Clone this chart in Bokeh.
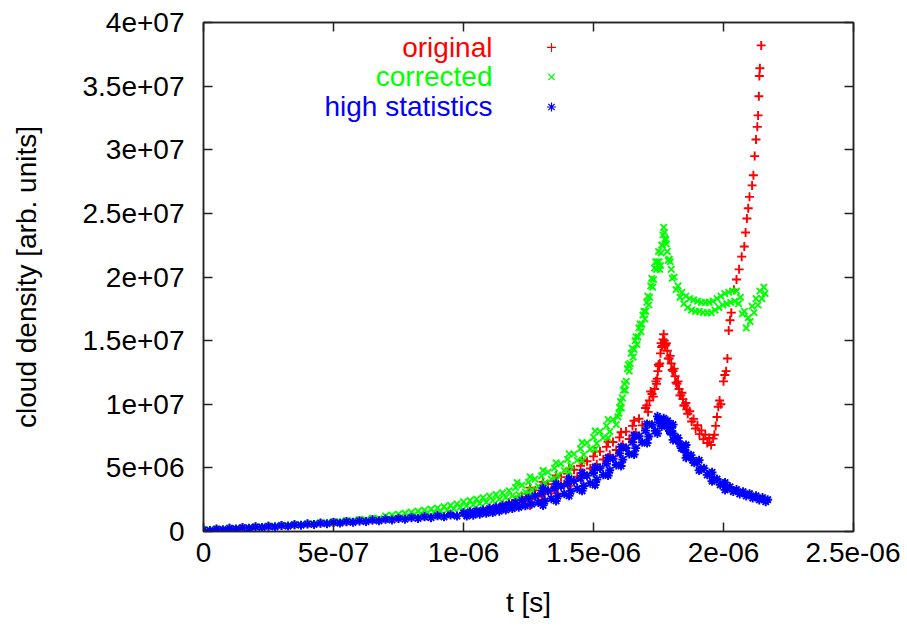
import numpy as np
from bokeh.plotting import figure
from bokeh.models import Range1d, FixedTicker, CustomJSTickFormatter, LinearAxis, Label
from bokeh.embed import file_html
from bokeh.resources import INLINE

FONT = "Liberation Sans"
FS = "28px"

# ---------------- data (t in microseconds, density in millions) ----------------
x_ticks = [0, 5e-7, 1e-6, 1.5e-6, 2e-6, 2.5e-6]
x_tick_labels = ["0", "5e-07", "1e-06", "1.5e-06", "2e-06", "2.5e-06"]
y_ticks = [0, 5e6, 1e7, 1.5e7, 2e7, 2.5e7, 3e7, 3.5e7, 4e7]
y_tick_labels = ["0", "5e+06", "1e+07", "1.5e+07", "2e+07", "2.5e+07", "3e+07", "3.5e+07", "4e+07"]

series_names = ["original", "corrected", "high statistics"]

t_original_us = [
    0.00, 0.05, 0.10, 0.15, 0.20, 0.25, 0.30, 0.35, 0.40, 0.45, 0.50, 0.55, 0.60, 0.65,
    0.70, 0.75, 0.80, 0.85, 0.90, 0.95, 1.00, 1.05,
    1.1000, 1.1125, 1.1250, 1.1375, 1.1500, 1.1625, 1.1750, 1.1875, 1.2000, 1.2125, 1.2250, 1.2375,
    1.2500, 1.2625, 1.2750, 1.2875, 1.3000, 1.3125, 1.3250, 1.3375, 1.3500, 1.3625, 1.3750, 1.3875,
    1.4000, 1.4125, 1.4250, 1.4375, 1.4500, 1.4625, 1.4750, 1.4875, 1.5000, 1.5125, 1.5250, 1.5375,
    1.5500, 1.5625, 1.5750, 1.5875, 1.6000, 1.6125, 1.6250, 1.6375, 1.6500, 1.6625, 1.6750, 1.6875,
    1.7000, 1.7100, 1.7200, 1.7300, 1.7400, 1.7450, 1.7500, 1.7550, 1.7600, 1.7650, 1.7700, 1.7750,
    1.7800, 1.7875, 1.7950, 1.8025, 1.8100, 1.8175, 1.8250, 1.8325, 1.8400, 1.8475, 1.8550, 1.8625,
    1.8700, 1.8775, 1.8850, 1.8925, 1.9000, 1.9075, 1.9150, 1.9225, 1.9300, 1.9375, 1.9450, 1.9525,
    1.9600, 1.9650, 1.9700, 1.9750, 1.9800, 1.9850, 1.9900, 2.0000, 2.0050, 2.0100, 2.0150, 2.0200,
    2.0250, 2.0300, 2.0400, 2.0500, 2.0600, 2.0700, 2.0800, 2.0850, 2.0900, 2.0950, 2.1000, 2.1100,
    2.1150, 2.1200, 2.1250, 2.1300, 2.1330, 2.1360, 2.1380, 2.1400, 2.1450,
    1.7050, 1.7150, 1.7250, 1.7350, 1.7425, 1.7475, 1.7525, 1.7575, 1.7625, 1.7675, 1.7725, 1.7775,
    1.7840, 1.7910, 1.7990, 1.8060, 1.8140, 1.8210, 1.8290, 1.8360, 1.8440, 1.8510, 1.8590,
    1.256, 1.256, 1.306, 1.306, 1.356, 1.356, 1.406, 1.406, 1.456, 1.456, 1.506, 1.506,
    1.556, 1.556, 1.606, 1.606, 1.656, 1.656,
]
n_original_M = [
    0.12, 0.20, 0.26, 0.31, 0.37, 0.42, 0.48, 0.54, 0.60, 0.66, 0.72, 0.78, 0.85, 0.92,
    1.00, 1.07, 1.14, 1.21, 1.29, 1.37, 1.46, 1.58,
    1.85, 1.70, 1.97, 1.78, 2.10, 1.87, 2.28, 1.99, 2.47, 2.14, 2.72, 2.35,
    2.97, 2.54, 3.23, 2.74, 3.47, 2.96, 3.72, 3.21, 3.99, 3.45, 4.27, 3.72,
    4.55, 4.00, 4.85, 4.30, 5.17, 4.60, 5.52, 4.95, 5.90, 5.29, 6.28, 5.66,
    6.65, 6.04, 7.03, 6.41, 7.40, 6.82, 7.85, 7.27, 8.30, 7.78, 8.86, 8.34,
    9.70, 9.40, 11.00, 10.60, 11.80, 12.00, 13.10, 13.20, 14.80, 14.60, 15.50, 14.60,
    14.80, 13.60, 13.80, 12.70, 12.80, 11.70, 11.80, 10.70, 10.90, 9.90, 10.10, 9.25,
    9.45, 8.65, 8.85, 8.10, 8.35, 7.65, 7.95, 7.25, 7.60, 6.95, 7.35, 6.80,
    7.30, 7.60, 8.30, 9.00, 9.80, 10.30, 10.00, 11.80, 12.30, 12.60, 13.60, 15.80,
    16.60, 17.20, 19.00, 19.80, 20.60, 21.60, 22.40, 23.50, 24.60, 25.40, 26.30, 27.20,
    28.00, 29.50, 30.80, 31.80, 32.70, 34.20, 35.80, 36.40, 38.20,
    9.90, 10.30, 10.80, 11.20, 11.60, 12.60, 13.00, 14.00, 14.50, 15.10, 15.00, 14.70,
    14.20, 13.60, 13.20, 12.60, 12.20, 11.60, 11.20, 10.70, 10.40, 9.90, 9.60,
    3.45, 2.05, 3.90, 2.50, 4.40, 3.00, 4.95, 3.60, 5.60, 4.20, 6.30, 4.90,
    7.05, 5.65, 7.80, 6.40, 8.70, 7.30,
]

t_corrected_us = [
    0.000, 0.025, 0.050, 0.075, 0.100, 0.125, 0.150, 0.175, 0.200, 0.225, 0.250, 0.275,
    0.300, 0.325, 0.350, 0.375, 0.400, 0.425, 0.450, 0.475, 0.500, 0.525, 0.550, 0.575,
    0.600, 0.625, 0.650, 0.675,
    0.7000, 0.7125, 0.7250, 0.7375, 0.7500, 0.7625, 0.7750, 0.7875, 0.8000, 0.8125, 0.8250, 0.8375,
    0.8500, 0.8625, 0.8750, 0.8875, 0.9000, 0.9125, 0.9250, 0.9375, 0.9500, 0.9625, 0.9750, 0.9875,
    1.0000, 1.0125, 1.0250, 1.0375, 1.0500, 1.0625, 1.0750, 1.0875, 1.1000, 1.1125, 1.1250, 1.1375,
    1.1500, 1.1625, 1.1750, 1.1875, 1.2000, 1.2125, 1.2250, 1.2375, 1.2500, 1.2625, 1.2750, 1.2875,
    1.3000, 1.3125, 1.3250, 1.3375, 1.3500, 1.3625, 1.3750, 1.3875, 1.4000, 1.4125, 1.4250, 1.4375,
    1.4500, 1.4625, 1.4750, 1.4875, 1.5000, 1.5125, 1.5250, 1.5375, 1.5500, 1.5625, 1.5750, 1.5875,
    1.6000, 1.6075, 1.6150, 1.6225, 1.6300, 1.6375, 1.6450, 1.6525, 1.6600, 1.6675, 1.6750, 1.6825,
    1.6900, 1.6975, 1.7050, 1.7125, 1.7200, 1.7275, 1.7350, 1.7425, 1.7500, 1.7550, 1.7600, 1.7650,
    1.7700, 1.7750, 1.7800, 1.7875, 1.7950, 1.8025, 1.8100, 1.8175, 1.8250, 1.8325, 1.8400, 1.8475,
    1.8550, 1.8625, 1.8700, 1.8775, 1.8850, 1.8925, 1.9000, 1.9075, 1.9150, 1.9225, 1.9300, 1.9375,
    1.9450, 1.9525, 1.9600, 1.9675, 1.9750, 1.9825, 1.9900, 1.9975, 2.0050, 2.0125, 2.0200, 2.0275,
    2.0350, 2.0425, 2.0500, 2.0575, 2.0650, 2.0725, 2.0800, 2.0875, 2.0950, 2.1025, 2.1100, 2.1175,
    2.1250, 2.1325, 2.1400, 2.1475, 2.1550, 2.1600,
    1.5940, 1.5980, 1.6040, 1.6110, 1.6190, 1.6260, 1.6340, 1.6410, 1.6490, 1.6560, 1.6640, 1.6710,
    1.6790, 1.6860, 1.6940, 1.7010, 1.7090, 1.7160, 1.7240, 1.7310, 1.7390, 1.7460, 1.7525, 1.7575,
    1.7625, 1.7675, 1.7725, 1.7775, 1.7840, 1.7910, 1.7990,
    1.206, 1.206, 1.256, 1.256, 1.306, 1.306, 1.356, 1.356, 1.406, 1.406, 1.456, 1.456,
    1.506, 1.506, 1.556, 1.556,
]
n_corrected_M = [
    0.15, 0.12, 0.20, 0.17, 0.26, 0.23, 0.31, 0.28, 0.37, 0.35, 0.43, 0.40,
    0.49, 0.47, 0.56, 0.53, 0.63, 0.60, 0.70, 0.67, 0.78, 0.75, 0.86, 0.83,
    0.95, 0.92, 1.05, 1.02,
    1.22, 1.05, 1.28, 1.12, 1.36, 1.18, 1.44, 1.25, 1.52, 1.32, 1.60, 1.39,
    1.68, 1.46, 1.76, 1.53, 1.84, 1.61, 1.95, 1.69, 2.05, 1.78, 2.17, 1.90,
    2.33, 2.02, 2.44, 2.11, 2.55, 2.20, 2.66, 2.30, 2.78, 2.42, 2.91, 2.54,
    3.05, 2.68, 3.20, 2.80, 3.45, 2.90, 3.65, 3.10, 3.87, 3.30, 4.12, 3.55,
    4.37, 3.82, 4.67, 4.12, 4.97, 4.44, 5.32, 4.79, 5.67, 5.18, 6.09, 5.60,
    6.51, 6.03, 6.96, 6.48, 7.40, 6.92, 7.85, 7.37, 8.30, 7.85, 8.80, 8.40,
    9.75, 9.70, 11.10, 11.10, 12.80, 12.60, 14.00, 13.70, 15.00, 14.70, 16.00, 15.70,
    17.00, 16.70, 18.00, 17.80, 19.30, 19.20, 20.70, 20.60, 22.00, 20.60, 21.90, 22.50,
    23.90, 23.00, 22.60, 21.30, 21.20, 19.90, 20.00, 19.00, 19.30, 18.40, 18.80, 17.90,
    18.50, 17.60, 18.30, 17.40, 18.20, 17.30, 18.10, 17.30, 18.00, 17.20, 18.00, 17.20,
    18.00, 17.20, 18.10, 17.40, 18.30, 17.60, 18.50, 17.80, 18.70, 17.90, 18.80, 18.00,
    18.90, 18.10, 18.90, 17.90, 18.40, 17.10, 17.30, 16.00, 16.80, 16.50, 17.70, 17.20,
    18.30, 17.80, 18.90, 18.30, 19.20, 18.70,
    9.00, 9.30, 10.20, 10.50, 11.60, 11.80, 13.10, 13.20, 14.40, 14.30, 15.30, 15.30,
    16.30, 16.30, 17.30, 17.30, 18.50, 18.40, 19.90, 19.80, 21.20, 21.20, 21.20, 20.90,
    22.50, 23.30, 23.50, 22.90, 22.00, 21.40, 20.60,
    3.85, 2.50, 4.30, 2.90, 4.80, 3.40, 5.40, 4.00, 6.10, 4.70, 7.00, 5.55,
    7.90, 6.45, 8.80, 7.35,
]

t_high_us = [
    0.000, 0.025, 0.050, 0.075, 0.100, 0.125, 0.150, 0.175, 0.200, 0.225, 0.250, 0.275,
    0.300, 0.325, 0.350, 0.375, 0.400, 0.425, 0.450, 0.475, 0.500, 0.525, 0.550, 0.575,
    0.600, 0.625, 0.650, 0.675, 0.700, 0.725, 0.750, 0.775, 0.800, 0.825, 0.850, 0.875,
    0.900, 0.925, 0.950, 0.975,
    1.0000, 1.0125, 1.0250, 1.0375, 1.0500, 1.0625, 1.0750, 1.0875, 1.1000, 1.1125, 1.1250, 1.1375,
    1.1500, 1.1625, 1.1750, 1.1875, 1.2000, 1.2125, 1.2250, 1.2375, 1.2500, 1.2625, 1.2750, 1.2875,
    1.3000, 1.3125, 1.3250, 1.3375, 1.3500, 1.3625, 1.3750, 1.3875, 1.4000, 1.4125, 1.4250, 1.4375,
    1.4500, 1.4625, 1.4750, 1.4875, 1.5000, 1.5125, 1.5250, 1.5375, 1.5500, 1.5625, 1.5750, 1.5875,
    1.6000, 1.6125, 1.6250, 1.6375, 1.6500, 1.6625, 1.6750, 1.6875, 1.7000, 1.7125, 1.7250, 1.7375,
    1.7500, 1.7625, 1.7700, 1.7775, 1.7850, 1.7925, 1.8000, 1.8125, 1.8250, 1.8375, 1.8500, 1.8625,
    1.8750, 1.8875, 1.9000, 1.9125, 1.9250, 1.9375, 1.9500, 1.9625, 1.9750, 1.9875, 2.0000, 2.0125,
    2.0250, 2.0375, 2.0500, 2.0625, 2.0750, 2.0875, 2.1000, 2.1125, 2.1250, 2.1375, 2.1500, 2.1625,
    2.1700,
    1.7560, 1.7660, 1.7740, 1.7810, 1.7890, 1.7960, 1.8060, 1.8190, 1.8310, 1.8440, 1.8560, 1.8690,
    1.8810,
    1.306, 1.306, 1.356, 1.356, 1.406, 1.406, 1.456, 1.456, 1.506, 1.506, 1.556, 1.556,
    1.606, 1.606, 1.656, 1.656, 1.706, 1.706, 1.746, 1.746, 1.806, 1.806, 1.856, 1.856,
    1.906, 1.906, 1.956, 1.956, 2.006, 2.006,
]
n_high_M = [
    0.12, 0.08, 0.18, 0.14, 0.25, 0.20, 0.30, 0.26, 0.36, 0.32, 0.41, 0.37,
    0.47, 0.43, 0.53, 0.49, 0.59, 0.55, 0.65, 0.61, 0.71, 0.66, 0.77, 0.72,
    0.83, 0.78, 0.90, 0.84, 0.96, 0.91, 1.03, 0.97, 1.09, 1.03, 1.15, 1.09,
    1.23, 1.15, 1.30, 1.21,
    1.47, 1.21, 1.54, 1.28, 1.62, 1.36, 1.69, 1.43, 1.80, 1.49, 1.91, 1.60,
    2.03, 1.69, 2.14, 1.80, 2.27, 1.90, 2.45, 2.02, 2.62, 2.15, 2.80, 2.27,
    3.00, 2.39, 3.19, 2.58, 3.38, 2.77, 3.56, 2.96, 3.75, 3.16, 3.96, 3.37,
    4.18, 3.58, 4.39, 3.79, 4.60, 4.08, 4.97, 4.45, 5.33, 4.81, 5.72, 5.23,
    6.14, 5.65, 6.56, 6.09, 7.02, 6.55, 7.48, 7.01, 7.93, 7.46, 8.38, 7.91,
    8.78, 8.25, 8.90, 8.45, 8.70, 7.90, 8.15, 7.35, 7.35, 6.55, 6.65, 5.95,
    6.00, 5.40, 5.45, 4.90, 4.97, 4.45, 4.53, 4.05, 4.12, 3.67, 3.75, 3.37,
    3.51, 3.14, 3.30, 2.95, 3.13, 2.79, 2.97, 2.63, 2.81, 2.48, 2.67, 2.34,
    2.50,
    8.50, 8.70, 8.70, 8.40, 8.10, 7.80, 7.70, 7.20, 6.90, 6.50, 6.20, 5.90,
    5.60,
    3.40, 2.05, 3.75, 2.40, 4.15, 2.80, 4.60, 3.20, 5.05, 3.65, 5.80, 4.40,
    6.65, 5.15, 7.55, 6.05, 8.45, 6.95, 9.05, 7.70, 8.40, 7.20, 6.80, 5.80,
    5.60, 4.80, 4.65, 3.95, 3.85, 3.27,
]

# key layout (data units: microseconds / millions)
key_text_x_us = 1.1115
key_mark_x_us = 1.3385
key_y_M = [38.04, 35.72, 33.36]

colors = ["#ff0000", "#00ff00", "#0000ff"]
markers = ["cross", "x", "asterisk"]
MSIZE = 9
MLW = 1.9

# ---------------- figure ----------------
p = figure(width=900, height=620, output_backend="svg", toolbar_location=None,
           x_range=Range1d(0, 2.5e-6), y_range=Range1d(0, 4e7),
           min_border_left=203, min_border_right=47, min_border_top=22, min_border_bottom=88,
           x_axis_label="t [s]", y_axis_label="cloud density [arb. units]")
p.grid.visible = False
p.outline_line_color = "#222222"
p.outline_line_width = 1.5
p.background_fill_color = "white"
p.border_fill_color = "white"

xs_all = [t_original_us, t_corrected_us, t_high_us]
ys_all = [n_original_M, n_corrected_M, n_high_M]
for t_us, n_M, c, m in zip(xs_all, ys_all, colors, markers):
    p.scatter(np.array(t_us) * 1e-6, np.array(n_M) * 1e6, marker=m, size=MSIZE,
              line_color=c, fill_color=None, line_width=MLW)

fmt_code = """
for (let i = 0; i < vals.length; i++) {
  if (Math.abs(vals[i] - tick) <= tol * Math.max(1, Math.abs(vals[i] / unit))) return labels[i];
}
return "";
"""
xfmt = CustomJSTickFormatter(args=dict(vals=x_ticks, labels=x_tick_labels, tol=1e-15, unit=1e-6), code=fmt_code)
yfmt = CustomJSTickFormatter(args=dict(vals=y_ticks, labels=y_tick_labels, tol=1e-3, unit=1e6), code=fmt_code)
blank = CustomJSTickFormatter(code="return '';")

def style_axis(ax, show_labels=True):
    ax.major_tick_in = 9
    ax.major_tick_out = 0
    ax.minor_tick_in = 0
    ax.minor_tick_out = 0
    ax.axis_line_color = "#222222"
    ax.axis_line_width = 1.5
    ax.major_tick_line_color = "#222222"
    ax.major_tick_line_width = 1.5
    ax.major_label_text_font = FONT
    ax.major_label_text_color = "black"
    if show_labels:
        ax.major_label_text_font_size = FS
    else:
        ax.major_label_text_font_size = "1px"
        ax.major_label_standoff = 0
    ax.axis_label_text_font = FONT
    ax.axis_label_text_font_size = FS
    ax.axis_label_text_font_style = "normal"
    ax.axis_label_text_color = "black"

xa = p.xaxis[0]
xa.ticker = FixedTicker(ticks=x_ticks)
xa.formatter = xfmt
style_axis(xa)
xa.major_label_standoff = 11
xa.axis_label_standoff = 22

ya = p.yaxis[0]
ya.ticker = FixedTicker(ticks=y_ticks)
ya.formatter = yfmt
style_axis(ya)
ya.major_label_standoff = 19
ya.axis_label_standoff = 38

top = LinearAxis(ticker=FixedTicker(ticks=x_ticks), formatter=blank)
style_axis(top, show_labels=False)
p.add_layout(top, "above")
right = LinearAxis(ticker=FixedTicker(ticks=y_ticks), formatter=blank)
style_axis(right, show_labels=False)
p.add_layout(right, "right")

# key (gnuplot style: coloured text, sample to the right)
for name, c, m, ky in zip(series_names, colors, markers, key_y_M):
    p.add_layout(Label(x=key_text_x_us * 1e-6, y=ky * 1e6, text=name, text_align="right",
                       text_baseline="middle", text_color=c, text_font=FONT, text_font_size=FS))
    p.scatter([key_mark_x_us * 1e-6], [ky * 1e6], marker=m, size=MSIZE,
              line_color=c, fill_color=None, line_width=1.2)

open("out.html", "w").write(file_html(p, INLINE))
